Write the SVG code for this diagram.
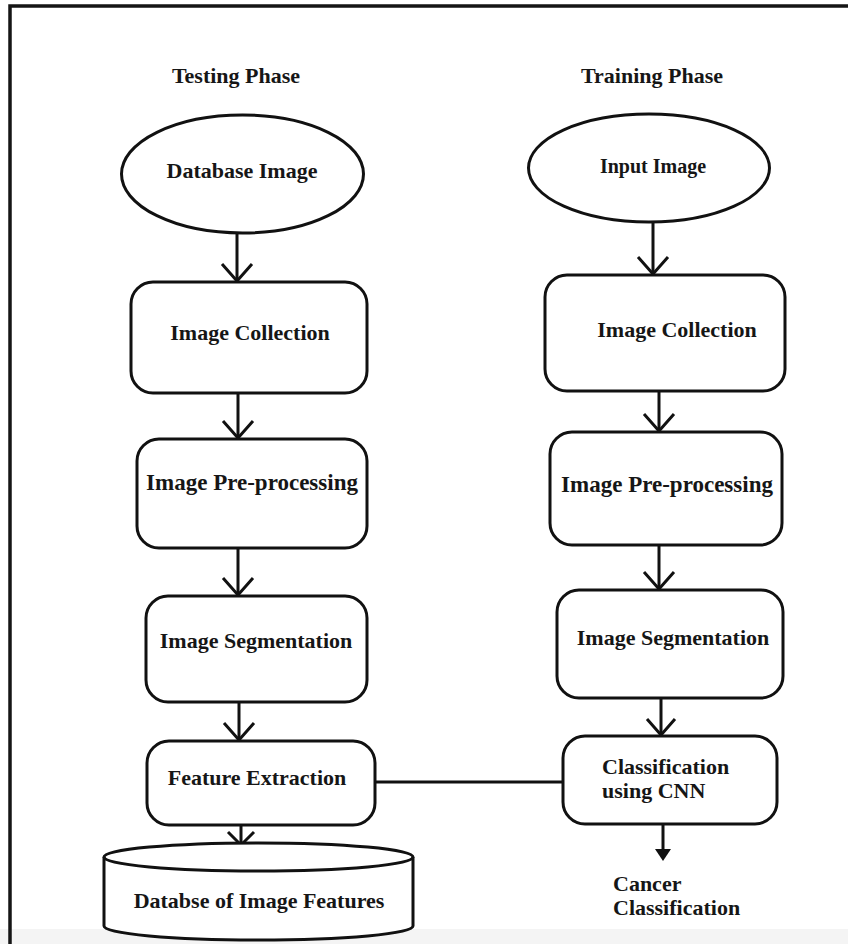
<svg xmlns="http://www.w3.org/2000/svg" width="848" height="944" viewBox="0 0 848 944">
<style>
.shape{fill:#fff;stroke:#111;stroke-width:3}
.line{fill:none;stroke:#111;stroke-width:3}
.lbl{font-family:"Liberation Serif","Times New Roman",serif;font-weight:bold;font-size:22px;fill:#161616}
.mid{text-anchor:middle}
.big{font-size:23px}
</style>
<rect x="0" y="0" width="848" height="944" fill="#fff"/>
<rect x="0" y="929" width="848" height="15" fill="#f4f4f4"/>
<path d="M10,944 V6 H848" fill="none" stroke="#151515" stroke-width="3.5"/>

<g id="titles">
<text class="lbl mid" x="236" y="83">Testing Phase</text>
<text class="lbl mid" x="652" y="83">Training Phase</text>
</g>

<g id="connectors">
<line class="line" x1="237" y1="233" x2="237" y2="281"/>
<polyline class="line" points="222,264 237,281 252,264"/>
<line class="line" x1="238" y1="393" x2="238" y2="438"/>
<polyline class="line" points="223,421 238,438 253,421"/>
<line class="line" x1="238" y1="548" x2="238" y2="595"/>
<polyline class="line" points="223,578 238,595 253,578"/>
<line class="line" x1="239" y1="702" x2="239" y2="740"/>
<polyline class="line" points="224,723 239,740 254,723"/>
<line class="line" x1="241" y1="825" x2="241" y2="845"/>
<polyline class="line" points="228,832 241,845 254,832"/>

<line class="line" x1="653" y1="222" x2="653" y2="274"/>
<polyline class="line" points="638,257 653,274 668,257"/>
<line class="line" x1="659" y1="391" x2="659" y2="431"/>
<polyline class="line" points="644,414 659,431 674,414"/>
<line class="line" x1="659" y1="545" x2="659" y2="589"/>
<polyline class="line" points="644,572 659,589 674,572"/>
<line class="line" x1="661" y1="698" x2="661" y2="735"/>
<polyline class="line" points="647,719 661,735 675,719"/>
<line class="line" x1="663" y1="824" x2="663" y2="850"/>
<polygon points="655,849 671,849 663,861" fill="#111"/>

<line class="line" x1="375" y1="782" x2="563" y2="782"/>
</g>

<g id="database-image">
<ellipse class="shape" cx="242.5" cy="174" rx="121" ry="59"/>
<text class="lbl mid" x="242" y="178">Database Image</text>
</g>
<g id="image-collection-test">
<rect class="shape" x="131" y="282" width="236" height="111" rx="22"/>
<text class="lbl mid" x="250" y="340">Image Collection</text>
</g>
<g id="preprocessing-test">
<rect class="shape" x="137" y="439" width="230" height="109" rx="22"/>
<text class="lbl mid big" x="252" y="490">Image Pre-processing</text>
</g>
<g id="segmentation-test">
<rect class="shape" x="146" y="596" width="221" height="106" rx="22"/>
<text class="lbl mid" x="256" y="648">Image Segmentation</text>
</g>
<g id="feature-extraction">
<rect class="shape" x="147" y="741" width="228" height="84" rx="22"/>
<text class="lbl mid" x="257" y="785">Feature Extraction</text>
</g>
<g id="feature-database">
<path class="shape" d="M104,857 A154.5,14 0 0 1 413,857 V926 A154.5,14 0 0 1 104,926 Z"/>
<path class="line" d="M104,857 A154.5,14 0 0 0 413,857"/>
<text class="lbl mid" x="259" y="908">Databse of Image Features</text>
</g>

<g id="input-image">
<ellipse class="shape" cx="649" cy="168" rx="120.5" ry="54"/>
<text class="lbl mid" x="653" y="173" style="font-size:20px">Input Image</text>
</g>
<g id="image-collection-train">
<rect class="shape" x="545" y="275" width="240" height="116" rx="22"/>
<text class="lbl mid" x="677" y="337">Image Collection</text>
</g>
<g id="preprocessing-train">
<rect class="shape" x="550" y="432" width="232" height="113" rx="22"/>
<text class="lbl mid big" x="667" y="492">Image Pre-processing</text>
</g>
<g id="segmentation-train">
<rect class="shape" x="557" y="590" width="226" height="108" rx="22"/>
<text class="lbl mid" x="673" y="645">Image Segmentation</text>
</g>
<g id="classification-cnn">
<rect class="shape" x="563" y="736" width="214" height="88" rx="22"/>
<text class="lbl" x="602" y="774">Classification</text>
<text class="lbl" x="602" y="798">using CNN</text>
</g>
<g id="cancer-classification">
<text class="lbl" x="613" y="891">Cancer</text>
<text class="lbl" x="613" y="915">Classification</text>
</g>
</svg>
